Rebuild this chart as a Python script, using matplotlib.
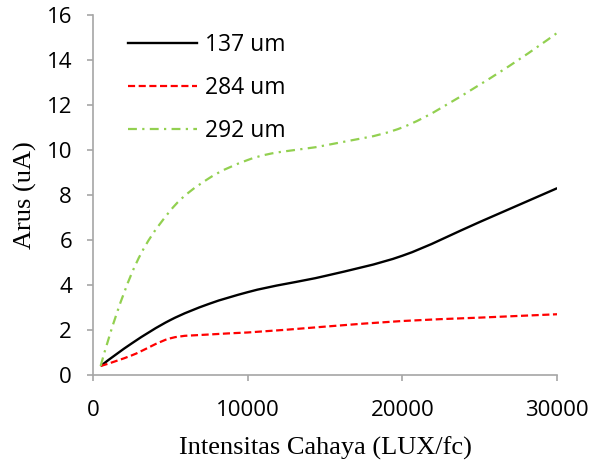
import numpy as np
import matplotlib.pyplot as plt
from matplotlib.path import Path
from matplotlib.patches import PathPatch
from matplotlib.lines import Line2D

lux = [500, 2500, 5000, 7500, 10000, 15000, 20000, 25000, 30000]
arus_137 = [0.4, 1.4, 2.44, 3.16, 3.68, 4.4, 5.3, 6.8, 8.3]
arus_284 = [0.4, 0.87, 1.63, 1.8, 1.89, 2.15, 2.4, 2.55, 2.7]
arus_292 = [0.4, 4.5, 7.3, 8.74, 9.55, 10.2, 11.0, 12.9, 15.2]
labels = ['137 um', '284 um', '292 um']


def smooth_path(x, y):
    # garis halus: bezier kubik, kemiringan dari 3 titik
    x = np.asarray(x, float)
    y = np.asarray(y, float)
    n = len(x)
    h = np.diff(x)
    d = np.diff(y) / h
    m = np.zeros(n)
    for i in range(1, n - 1):
        m[i] = (h[i] * d[i - 1] + h[i - 1] * d[i]) / (h[i - 1] + h[i])
    m[0] = 2 * d[0] - m[1]
    m[-1] = 2 * d[-1] - m[-2]
    verts = [(x[0], y[0])]
    codes = [Path.MOVETO]
    for i in range(n - 1):
        k = h[i] / 3
        verts += [(x[i] + k, y[i] + m[i] * k),
                  (x[i + 1] - k, y[i + 1] - m[i + 1] * k),
                  (x[i + 1], y[i + 1])]
        codes += [Path.CURVE4] * 3
    return Path(verts, codes)


tick_font = 'Open Sans'
fig = plt.figure(figsize=(6.07, 4.63), dpi=100)
ax = fig.add_axes([0.153, 0.19, 0.765, 0.778])

styles = [
    dict(color='black', lw=1.7, ls='-'),
    dict(color='#ff0000', lw=1.6, ls=(0, (3.2, 1.6))),
    dict(color='#92d050', lw=1.6, ls=(0, (4, 2.4, 1, 2.4))),
]
series = [arus_137, arus_284, arus_292]
handles = []
for ys, st, lab in zip(series, styles, labels):
    patch = PathPatch(smooth_path(lux, ys), fill=False, edgecolor=st['color'],
                      linewidth=st['lw'], linestyle=st['ls'], capstyle='butt')
    ax.add_patch(patch)
    handles.append(Line2D([], [], color=st['color'], lw=st['lw'], ls=st['ls']))

ax.set_xlim(0, 30000)
ax.set_ylim(0, 16)
ax.set_xticks([0, 10000, 20000, 30000])
ax.set_yticks(range(0, 17, 2))
for s in ['top', 'right']:
    ax.spines[s].set_visible(False)
for s in ['left', 'bottom']:
    ax.spines[s].set_color('#a6a6a6')
    ax.spines[s].set_linewidth(1.2)
ax.tick_params(direction='out', length=4, width=1.2, color='#a6a6a6',
               labelsize=16)
ax.tick_params(axis='x', pad=14)
ax.tick_params(axis='y', pad=11)
for t in ax.get_xticklabels() + ax.get_yticklabels():
    t.set_family(tick_font)

ax.set_xlabel('Intensitas Cahaya (LUX/fc)', family='Liberation Serif', fontsize=19, labelpad=11)
ax.set_ylabel('Arus (uA)', family='Liberation Serif', fontsize=19, labelpad=7)

ax.legend(handles, labels, loc='upper left', bbox_to_anchor=(0.0754, 0.95),
          frameon=False, handlelength=3.0, handletextpad=0.35, labelspacing=0.83,
          borderpad=0, borderaxespad=0,
          prop={'family': tick_font, 'size': 16.5})

fig.savefig('out.png', dpi=100)
